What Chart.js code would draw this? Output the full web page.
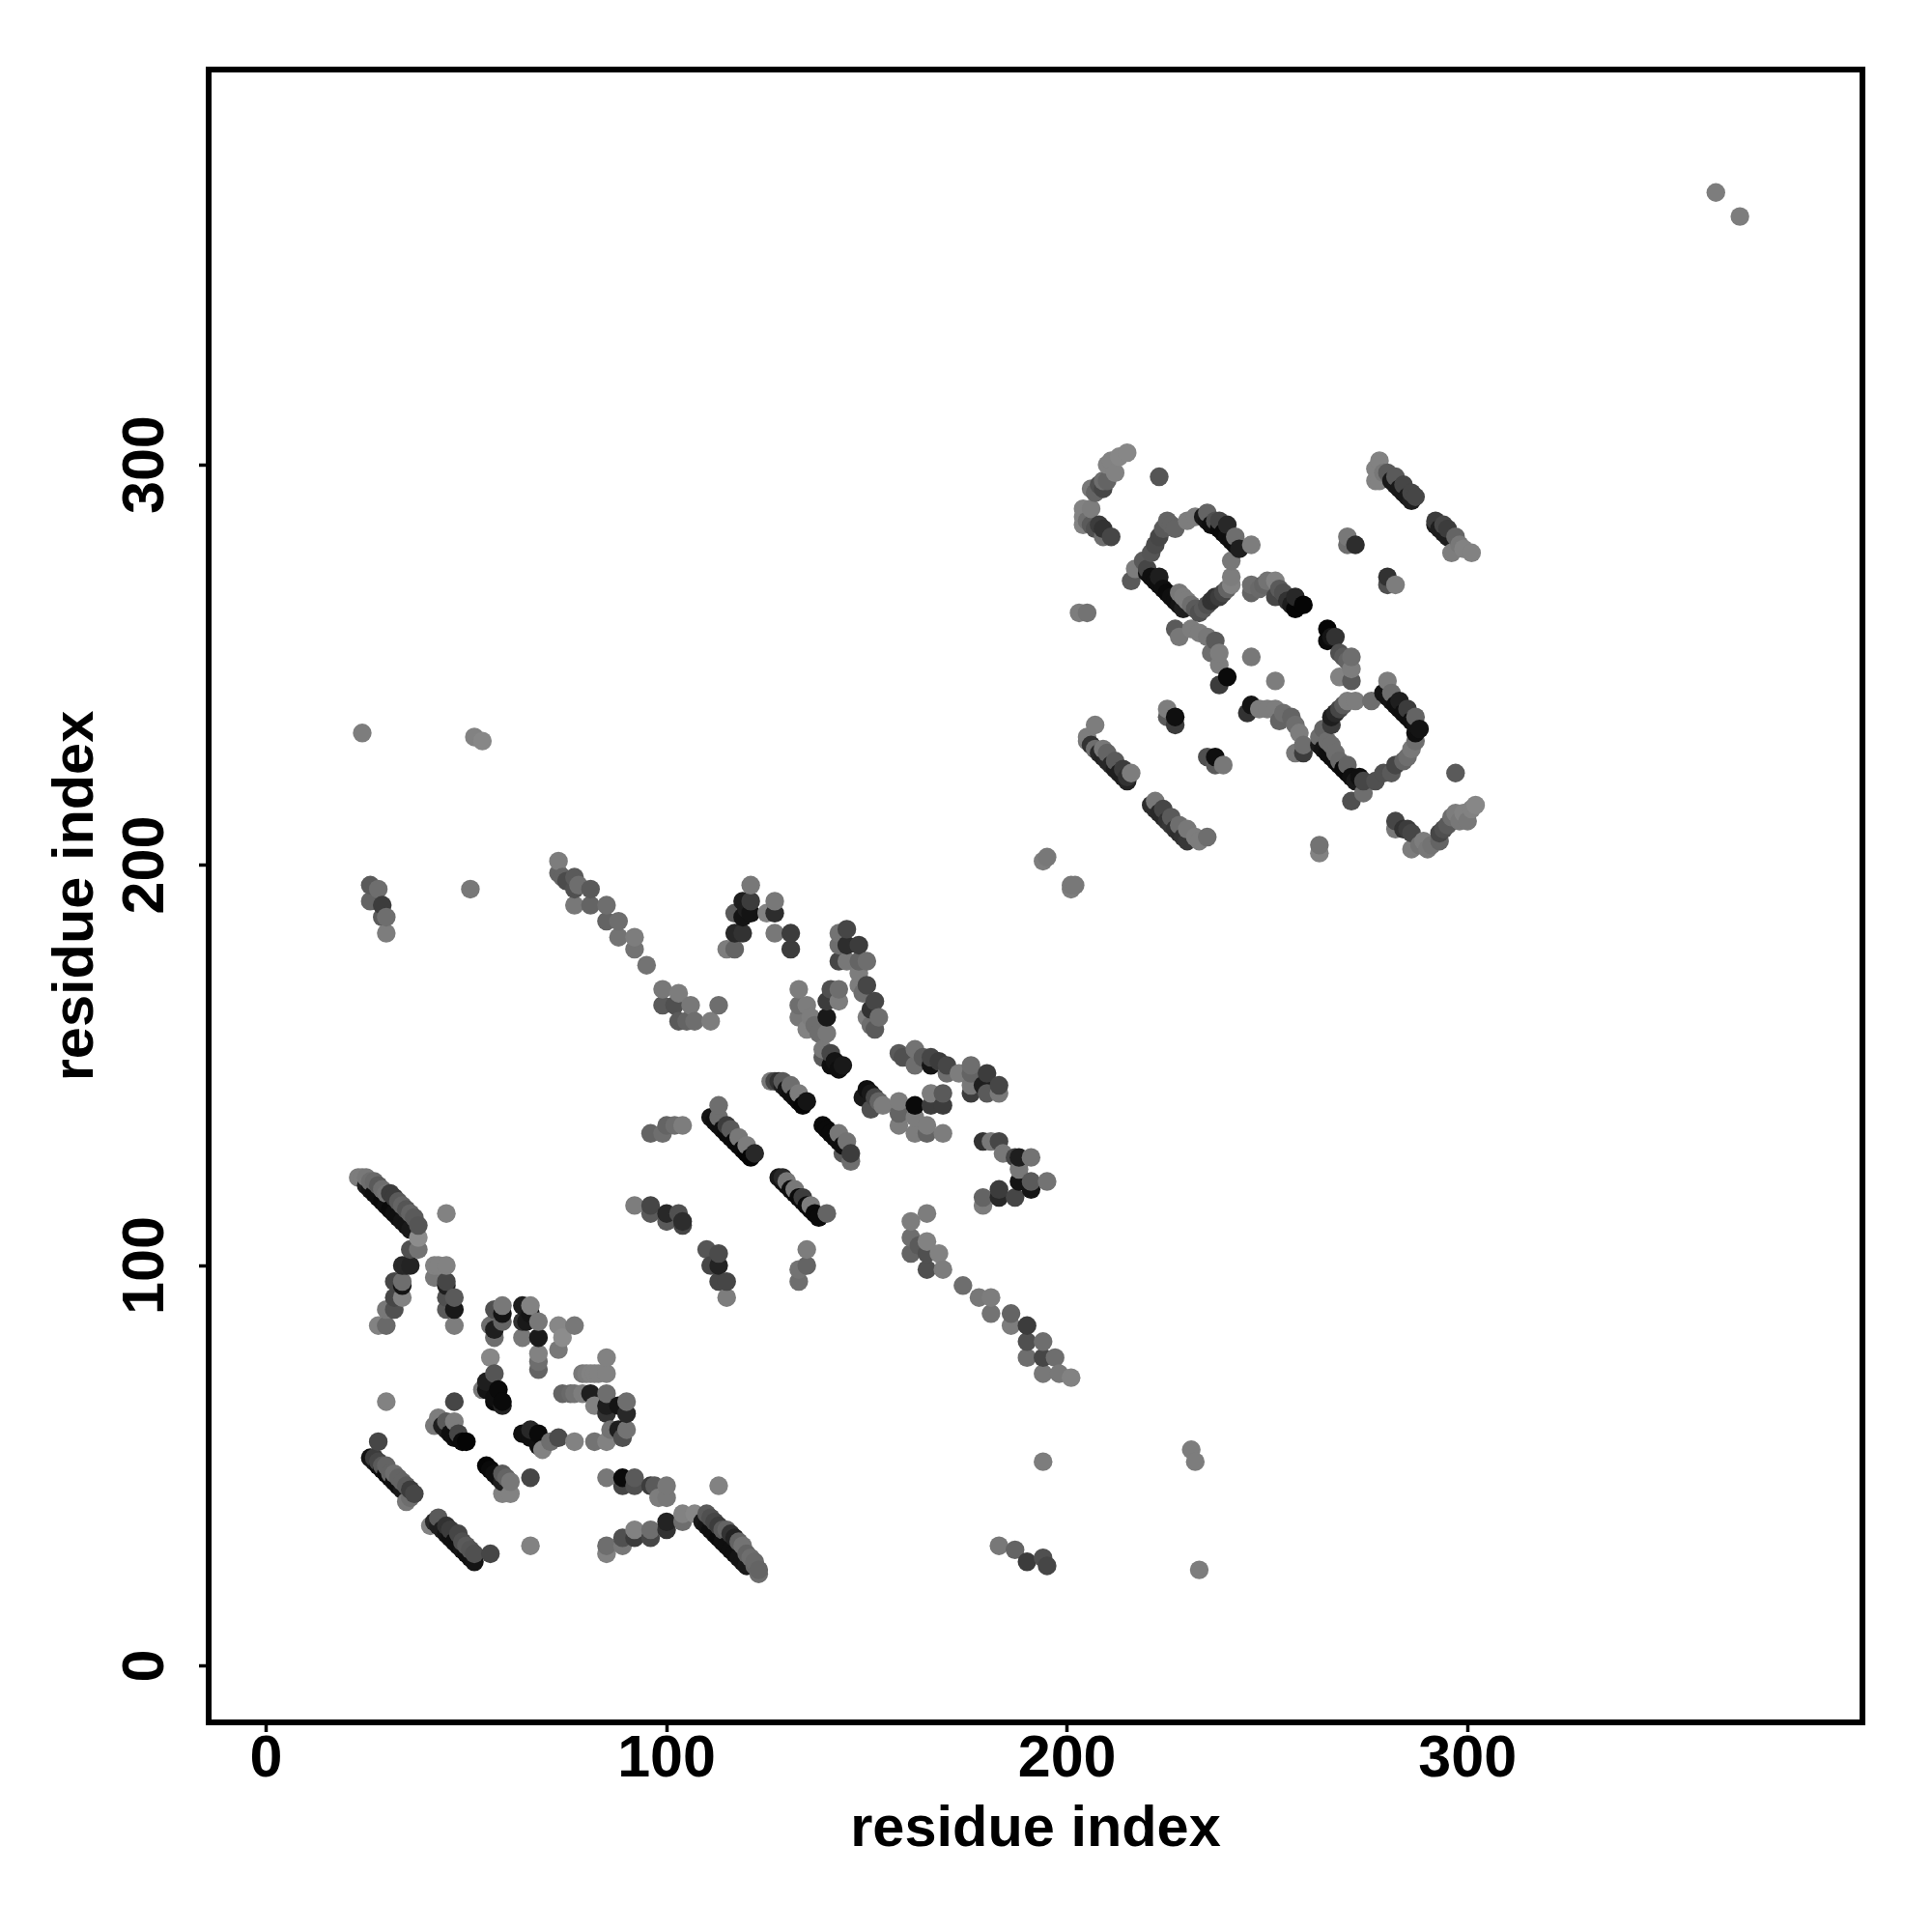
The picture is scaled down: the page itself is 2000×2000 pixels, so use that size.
<!DOCTYPE html>
<html>
<head>
<meta charset="utf-8">
<title>contact map</title>
<script src="https://cdn.jsdelivr.net/npm/chart.js@4"></script>
<style>
body { margin: 0; background: #fff; }
#wrap { width: 2000px; height: 2000px; position: relative; }
</style>
</head>
<body>
<div id="wrap"><canvas id="contactCanvas"></canvas></div>
<script>
var tickValues = [0, 100, 200, 300];
var axisTitle = "residue index";

// contacts, one group per patch of the map: x residue, y residue, grey level
var strandAx = [25,26,27,28,29,30,31,32,33,34,35,36,23,24,25,26,27,28,29,30,31,32,33,34,35,36,37,38];
var strandAy = [120,119,118,117,116,115,114,113,112,111,110,109,122,122,122,121,121,120,119,118,118,117,116,115,114,113,112,110];
var strandAg = [30,20,15,15,10,15,10,15,15,20,20,25,125,125,120,110,105,90,110,115,60,60,90,100,85,100,90,85];
var armLx = [45,38,38,36,34,35,36,34,34,32,34,32,32,30,30,28];
var armLy = [113,107,104,104,100,100,100,95,96,96,92,92,89,89,85,85];
var armLg = [130,140,115,80,40,40,35,20,110,70,130,70,80,120,105,130];
var armRx = [42,43,45,42,45,45,45,47,45,47,47];
var armRy = [100,100,100,97,95,96,92,92,89,89,85];
var armRg = [130,130,130,120,30,70,80,90,90,25,125];
var hookAx = [59,57,59,59,56,57,57,56,57,55,54,55,58,57,57,59,59];
var hookAy = [90,89,88,86,85,84,82,77,73,71,69,69,69,67,66,66,65];
var hookAg = [120,80,20,100,110,30,110,135,85,30,120,20,10,15,10,10,35];
var hookBx = [64,66,64,66,65,68,64,68,68,68,68];
var hookBy = [90,90,86,88,86,86,82,82,78,76,74];
var hookBg = [30,130,50,20,25,120,120,25,130,110,100];
var patchCx = [73,77,74,73,85,79,80,81,82,83,85];
var patchCy = [85,85,82,79,77,73,73,73,73,73,73];
var patchCg = [135,120,140,120,130,120,125,130,130,130,130];
var patchDx = [74,76,77,79,81,85,85,88,85,82,90,90];
var patchDy = [68,68,68,68,68,63,65,65,68,65,63,66];
var patchDg = [100,105,115,125,30,50,30,20,110,130,40,110];
var patchEx = [66,64,66,68,68,71,69,73,77,82,85,88,86,89,90];
var patchEy = [59,58,57,58,55,56,54,57,56,56,56,59,59,57,59];
var patchEg = [40,15,15,10,15,110,130,75,130,115,130,30,115,80,115];
var loneAx = [30,47,66,113,194,231,232,233,24,52,54,51,362,368,183,187,190,194,195];
var loneAy = [66,66,30,45,51,54,51,24,233,232,231,194,368,362,30,29,26,27,25];
var loneAg = [130,70,130,130,125,125,125,125,125,130,135,120,125,125,120,100,60,80,70];
var patchFx = [44,45,46,47,48,49,50,43,42,45,47,48];
var patchFy = [60,59,58,57,57,56,56,62,60,61,61,58];
var patchFg = [30,30,15,15,10,10,5,125,120,90,125,70];
var strandGx = [26,27,28,29,30,31,32,33,34,27,28,29,30,31,32,33,34,35,36,37,36,35,28];
var strandGy = [52,51,50,49,48,47,46,45,44,52,51,50,50,48,48,47,46,45,44,43,42,41,56];
var strandGg = [20,25,15,15,10,10,15,15,25,60,70,90,100,100,110,100,100,90,60,70,110,120,70];
var strandHx = [55,56,57,58,59,59,60,61,59,61,66];
var strandHy = [50,49,48,47,46,48,47,46,43,43,47];
var strandHg = [5,10,15,15,30,90,100,120,130,130,70];
var strandIx = [42,43,44,45,46,47,48,49,50,51,52,41,43,45,46,48,49,50,51,52,56];
var strandIy = [36,35,34,33,32,31,30,29,28,27,26,35,37,35,34,33,31,30,29,28,28];
var strandIg = [40,30,30,20,15,15,15,20,15,15,20,130,90,50,60,70,80,90,85,80,70];
var patchJx = [85,89,89,92,92,96,97,100,98,100];
var patchJy = [47,45,47,47,45,45,45,45,42,42];
var patchJg = [120,70,10,90,80,60,90,120,125,120];
var chainKx = [85,85,89,89,92,92,96,96,100,100,104,104,107];
var chainKy = [28,30,30,32,32,34,32,34,34,36,36,38,38];
var chainKg = [130,110,120,80,60,130,70,110,50,35,110,130,135];
var strandLx = [109,110,111,112,113,114,115,116,117,118,119,120,110,111,112,113,114,115,116,117,118,119,120,121,122,122,123,123];
var strandLy = [36,35,34,33,32,31,30,29,28,27,26,25,38,37,36,35,34,34,33,32,31,30,28,27,26,25,24,23];
var strandLg = [25,20,15,15,10,15,15,15,15,20,20,25,90,80,70,60,90,100,50,35,100,115,100,110,105,100,100,110];
var patchMx = [92,96,96,100,100,103,104,104,110,113,111,113,113,115,115];
var patchMy = [115,115,113,113,111,113,111,110,104,103,100,100,96,96,92];
var patchMg = [125,70,90,40,90,80,45,70,85,75,70,35,70,70,125];
var tailNx = [174,178,181,181,186,186,190,190,190,194,194,194,197,198,201,88,88,85,85,81,81,77,77,73,73,74,75,77,78];
var tailNy = [95,92,92,88,88,85,85,81,77,81,77,73,77,73,72,182,186,186,190,190,194,194,197,198,201,197,196,190,195];
var tailNg = [110,120,125,115,100,125,60,80,110,110,70,120,110,120,130,115,110,100,110,100,90,80,90,100,125,100,75,120,110];
var tailOx = [92,92,95,99,99,103,102,106,103,105,107,111,113];
var tailOy = [182,179,175,169,165,168,165,165,161,161,161,161,165];
var tailOg = [125,115,115,120,90,125,80,120,90,100,110,125,110];
var crownPx = [119,117,119,119,117,115,117,120,121,121,125,127,127,127,131,131,121];
var crownPy = [191,188,187,183,183,179,179,189,191,188,188,191,188,183,183,179,195];
var crownPg = [30,90,20,50,40,125,100,30,60,20,130,120,45,120,60,60,120];
var sliceQx = [143,145,143,145,148,143,145,148,150,148,148,149,150,151,152,150,151,153,152];
var sliceQy = [183,184,180,180,180,176,176,176,176,173,170,168,170,164,166,162,160,162,159];
var sliceQg = [115,70,110,45,60,70,120,100,110,125,125,110,70,50,70,125,110,110,90];
var sliceRx = [133,133,141,143,140,143,135,133,137,135,136,138,140,139,139,140,141,141,142,143,144];
var sliceRy = [169,165,169,169,166,166,165,162,160,159,162,158,158,154,152,162,153,150,151,149,150];
var sliceRg = [125,110,80,110,60,125,125,120,110,130,125,110,120,120,90,25,70,15,20,15,25];
var ridgeSx = [158,159,162,162,164,166,166,168,170,170,173,176,176,176,176,180,179,180,183,183];
var ridgeSy = [153,152,154,150,152,150,152,151,150,148,148,143,145,148,150,143,145,148,143,145];
var ridgeSg = [90,80,115,110,90,20,70,60,70,110,125,60,120,100,110,90,30,60,120,70];
var strandTx = [128,129,130,131,132,133,134,126,127,129,131,133,135];
var strandTy = [146,145,144,143,142,141,140,146,146,146,145,143,141];
var strandTg = [50,30,20,15,15,10,5,120,70,90,110,125,20];
var strandUx = [150,151,149,151,152,153,154,158,158,158,162,165,165,162,162,166,166,169,169,169];
var strandUy = [144,143,142,139,142,141,140,138,135,141,133,133,135,137,140,143,140,133,140,143];
var strandUg = [15,25,25,80,70,100,125,100,125,125,125,100,125,125,10,125,60,125,60,90];
var strandVx = [111,112,113,114,115,116,117,118,119,120,121,113,113,115,116,118,120,122];
var strandVy = [137,136,135,134,133,132,131,130,129,128,127,140,137,135,134,132,130,128];
var strandVg = [20,15,15,15,10,10,10,10,10,5,5,110,110,60,90,120,125,40];
var stubWx = [96,99,100,102,104];
var stubWy = [133,133,135,135,135];
var stubWg = [100,110,100,110,125];
var strandXx = [139,140,141,142,143,144,143,145,146,146,144];
var strandXy = [135,134,133,132,131,130,133,131,126,128,128];
var strandXg = [10,10,10,10,15,15,120,115,110,60,90];
var strandYx = [128,129,130,131,132,133,134,135,136,137,138,129,130,132,134,136,140];
var strandYy = [122,121,120,119,118,117,116,115,114,113,112,122,121,119,117,115,113];
var strandYg = [25,20,15,15,10,10,15,10,10,10,10,40,120,120,60,125,100];
var clawZx = [179,181,183,184,187,188,191,188,183,179,179,183,187,188,191,191,195];
var clawZy = [131,131,131,128,127,127,127,124,117,115,117,119,117,121,119,121,121];
var clawZg = [50,120,70,120,70,30,115,120,40,125,100,60,70,20,20,90,115];
var stackAx = [135,135,133,133];
var stackAy = [104,100,99,96];
var stackAg = [125,100,115,110];
var stackBx = [165,161,161,161,163,165,165,168,165,169];
var stackBy = [113,111,107,103,105,103,106,103,99,99];
var stackBg = [125,125,110,100,90,80,130,130,80,125];
var pairCx = [195,194,201,202,201];
var pairCy = [202,201,194,195,195];
var pairCg = [120,125,125,120,120];
var loneDx = [26,28,26,29,29,30,30];
var loneDy = [195,194,191,190,187,187,183];
var loneDg = [90,110,100,60,90,110,125];
var arcEx = [204,204,205,206,207,208,209,211,209,206,206,207,208,209,210,212,210,211,213,215,209,204];
var arcEy = [287,289,286,285,284,285,282,282,284,289,294,293,295,294,296,298,300,301,302,303,296,285];
var arcEg = [130,130,110,90,80,60,110,70,50,125,120,100,80,70,100,130,130,130,135,135,110,130];
var loneFx = [223,203,205,246,252,297,263,263];
var loneFy = [297,263,263,252,246,223,205,203];
var loneFg = [85,125,115,120,125,90,115,130];
var diamondGx = [220,221,222,223,224,225,226,227,228,229,216,217,219,220,221,222,223,224,225,226,227,223,228,229,230,231,232];
var diamondGy = [273,272,271,270,269,268,267,266,265,264,271,274,276,274,278,280,282,284,286,285,284,272,268,267,266,265,264];
var diamondGg = [20,15,15,15,15,10,15,15,20,30,90,125,90,70,85,75,70,90,100,100,100,30,120,125,125,110,90];
var diamondHx = [234,235,236,237,238,239,240,241,242,243,230,232,235,237,238,240,242,246,241,241,241,240,239,238,237,236,235,234,233];
var diamondHy = [287,286,285,285,284,283,282,281,280,279,286,287,288,286,286,285,282,280,276,272,270,269,268,267,267,266,265,264,263];
var diamondHg = [25,20,15,15,10,10,15,15,15,30,125,125,100,80,70,40,110,125,120,125,130,100,70,60,50,50,80,90,80];
var strandIIx = [246,246,248,249,250,252,253,254,252,255,256,257,257,259];
var strandIIy = [268,270,269,270,271,271,269,268,267,266,265,264,267,265];
var strandIIg = [100,110,105,100,115,130,90,80,70,50,30,5,40,5];
var strandJJx = [265,265,266,267,268,269,270,271,271,268,271];
var strandJJy = [256,259,257,257,253,252,251,246,249,247,252];
var strandJJg = [10,5,20,50,80,90,100,90,125,130,110];
var strandKKx = [227,228,231,233,235,237,236,238,238,238,240];
var strandKKy = [259,257,259,258,257,256,253,245,253,250,247];
var strandKKg = [90,120,125,125,120,90,110,60,125,125,10];
var strandLLx = [245,246,248,250,252,253,254,256,257,258,259,257,259];
var strandLLy = [238,240,239,239,239,236,238,237,235,233,228,228,230];
var strandLLg = [50,20,125,125,125,100,110,100,110,125,60,120,110];
var diamondMx = [263,264,265,266,267,268,269,270,271,272,280,270,272,276,269,268,267,266,266,264,263,265,266,267,268,270,273,274,271,274];
var diamondMy = [230,229,228,227,226,225,224,223,222,221,246,241,241,241,240,239,238,237,235,234,232,231,230,228,226,225,222,221,216,218];
var diamondMg = [25,20,15,15,15,10,10,10,15,25,125,125,125,110,90,70,40,30,60,100,110,110,110,110,105,100,15,70,80,110];
var diamondNx = [279,280,281,282,283,284,285,286,287,288,281,283,285,287,287,287,286,285,284,282,281,279,277];
var diamondNy = [243,242,241,240,239,238,237,236,235,234,243,241,239,237,233,231,229,227,226,225,223,223,221];
var diamondNg = [20,20,20,15,15,15,15,15,20,20,110,30,60,100,15,110,120,110,100,70,90,80,80];
var arcOx = [282,282,284,285,286,286,288,289,290,291,293,293,294,295,296,297,299,298,300,301,302];
var arcOy = [209,211,209,209,208,204,205,206,204,205,206,208,209,210,212,213,213,211,211,214,215];
var arcOg = [120,70,50,60,70,125,115,125,120,115,100,70,80,90,110,125,130,120,120,130,135];
var blockPx = [206,207,208,209,210,211,212,213,214,215,207,205,205,207,209,210,212,214,215,216];
var blockPy = [230,229,228,227,226,225,224,223,222,221,235,232,231,229,229,228,226,224,222,223];
var blockPg = [50,40,40,35,40,40,30,30,30,35,125,125,120,110,120,100,90,60,50,125];
var blockQx = [221,222,223,224,225,226,227,228,229,230,222,224,226,228,230,232,233,235];
var blockQy = [215,214,213,212,211,210,209,208,207,206,216,214,212,210,209,207,206,207];
var blockQg = [45,45,40,40,50,55,50,45,50,55,120,70,90,110,120,125,125,110];
var dotsRx = [225,225,227,227,235,237,239,237,270,270,272,280,280,282];
var dotsRy = [239,237,235,237,227,225,225,227,282,280,280,272,270,270];
var dotsRg = [125,90,60,15,80,90,120,15,120,110,45,50,80,125];
var strandSSx = [281,282,283,284,285,286,278,277,277,278,279,280,282,284,286,287];
var strandSSy = [296,295,294,293,292,291,301,299,296,296,298,298,297,295,293,292];
var strandSSg = [25,25,25,25,25,30,130,130,130,130,120,90,90,70,70,70];
var strandTTx = [292,293,294,295,292,294,295,297,296,298,299,301];
var strandTTy = [285,284,283,282,286,285,284,282,278,280,279,278];
var strandTTg = [30,30,30,30,60,70,60,100,125,120,130,130];

var groups = [
    [strandAx, strandAy, strandAg], [armLx, armLy, armLg], [armRx, armRy, armRg],
    [hookAx, hookAy, hookAg], [hookBx, hookBy, hookBg], [patchCx, patchCy, patchCg],
    [patchDx, patchDy, patchDg], [patchEx, patchEy, patchEg], [loneAx, loneAy, loneAg],
    [patchFx, patchFy, patchFg], [strandGx, strandGy, strandGg], [strandHx, strandHy, strandHg],
    [strandIx, strandIy, strandIg], [patchJx, patchJy, patchJg], [chainKx, chainKy, chainKg],
    [strandLx, strandLy, strandLg], [patchMx, patchMy, patchMg], [tailNx, tailNy, tailNg],
    [tailOx, tailOy, tailOg], [crownPx, crownPy, crownPg], [sliceQx, sliceQy, sliceQg],
    [sliceRx, sliceRy, sliceRg], [ridgeSx, ridgeSy, ridgeSg], [strandTx, strandTy, strandTg],
    [strandUx, strandUy, strandUg], [strandVx, strandVy, strandVg], [stubWx, stubWy, stubWg],
    [strandXx, strandXy, strandXg], [strandYx, strandYy, strandYg], [clawZx, clawZy, clawZg],
    [stackAx, stackAy, stackAg], [stackBx, stackBy, stackBg], [pairCx, pairCy, pairCg],
    [loneDx, loneDy, loneDg], [arcEx, arcEy, arcEg], [loneFx, loneFy, loneFg],
    [diamondGx, diamondGy, diamondGg], [diamondHx, diamondHy, diamondHg], [strandIIx, strandIIy, strandIIg],
    [strandJJx, strandJJy, strandJJg], [strandKKx, strandKKy, strandKKg], [strandLLx, strandLLy, strandLLg],
    [diamondMx, diamondMy, diamondMg], [diamondNx, diamondNy, diamondNg], [arcOx, arcOy, arcOg],
    [blockPx, blockPy, blockPg], [blockQx, blockQy, blockQg], [dotsRx, dotsRy, dotsRg],
    [strandSSx, strandSSy, strandSSg], [strandTTx, strandTTy, strandTTg]
];

// the points overlap, so they go down in residue order, later ones on top
var contacts = [];
groups.forEach(function (g) {
    g[0].forEach(function (x, i) {
        contacts.push({ x: x, y: g[1][i], grey: g[2][i] });
    });
});
contacts.sort(function (a, b) { return a.x - b.x || a.y - b.y; });

var boxFrame = {
    id: "boxFrame",
    afterDatasetsDraw: function (chart) {
        var a = chart.chartArea, ctx = chart.ctx;
        ctx.save();
        ctx.lineWidth = 6;
        ctx.strokeStyle = "#000";
        ctx.strokeRect(a.left, a.top, a.right - a.left, a.bottom - a.top);
        ctx.restore();
    }
};

function axisOptions(min, max, pad, isY) {
    return {
        type: "linear",
        min: min,
        max: max,
        border: { display: false },
        grid: { drawOnChartArea: false, drawTicks: true, tickLength: 10, tickWidth: 3.5, tickColor: "#000" },
        afterBuildTicks: function (scale) {
            scale.ticks = tickValues.map(function (v) { return { value: v }; });
        },
        afterFit: function (scale) {
            if (isY) { scale.width = 216; } else { scale.height = 217; }
        },
        ticks: {
            color: "#000",
            padding: isY ? 3 : -7,
            minRotation: isY ? 90 : 0,
            maxRotation: isY ? 90 : 0,
            crossAlign: isY ? "center" : "near",
            font: { family: "'Liberation Sans'", size: 61, weight: "bold" }
        },
        title: {
            display: true,
            text: axisTitle,
            color: "#000",
            padding: pad,
            font: { family: "'Liberation Sans'", size: 59.5, weight: "bold" }
        }
    };
}

var contactChart = new Chart(document.getElementById("contactCanvas"), {
    type: "scatter",
    data: {
        datasets: [{
            data: contacts,
            pointBackgroundColor: contacts.map(function (c) { return "rgb(" + c.grey + "," + c.grey + "," + c.grey + ")"; }),
            pointBorderWidth: 0,
            pointRadius: 9.7,
            pointHoverRadius: 9.7,
            showLine: false
        }]
    },
    options: {
        responsive: true,
        maintainAspectRatio: false,
        animation: false,
        layout: { padding: { top: 72, right: 72, left: 0, bottom: 0 } },
        plugins: { legend: { display: false }, tooltip: { enabled: false } },
        scales: {
            x: axisOptions(-14.35, 398.6, { top: 0, bottom: 70 }, false),
            y: axisOptions(-14.1, 398.7, { top: 44, bottom: 0 }, true)
        }
    },
    plugins: [boxFrame]
});
</script>
</body>
</html>
